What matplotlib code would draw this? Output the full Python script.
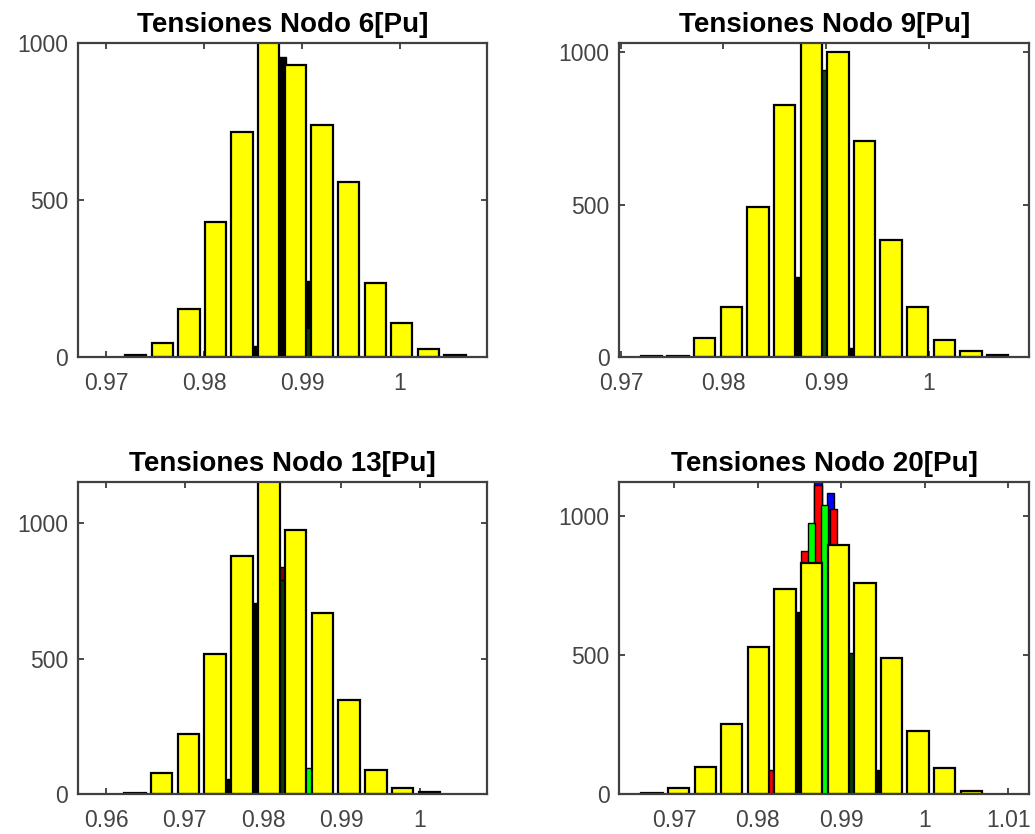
import matplotlib
matplotlib.use("Agg")
import matplotlib.pyplot as plt

plt.rcParams['font.family'] = ['Liberation Sans', 'DejaVu Sans']

# --- Nodo 6 ---
n6_x = [0.97299, 0.97571, 0.97843, 0.98115, 0.98387, 0.98659, 0.98931,
        0.99203, 0.99475, 0.99747, 1.00019, 1.00291, 1.00563]
n6_h = [8, 45, 153, 429, 716, 1010, 931, 740, 556, 236, 108, 25, 6]
n6_step = 0.00272
n6_bg_x = [0.98520, 0.98800, 0.99067, 0.99067]
n6_bg_h = [34, 957, 241, 92]
n6_bg_c = ['black', 'black', 'black', '#0b3d0b']

# --- Nodo 9 ---
n9_x = [0.97297, 0.97557, 0.97817, 0.98076, 0.98336, 0.98596, 0.98856,
        0.99116, 0.99376, 0.99635, 0.99895, 1.00155, 1.00415, 1.00675]
n9_h = [2, 5, 62, 164, 492, 828, 1045, 1000, 708, 383, 164, 57, 19, 8]
n9_step = 0.002598
n9_bg_x = [0.98708, 0.98720, 0.98984, 0.99244]
n9_bg_h = [120, 263, 943, 30]
n9_bg_c = ['black', 'black', '#0b4d0b', 'black']

# --- Nodo 13 ---
n13_x = [0.96367, 0.96708, 0.97050, 0.97391, 0.97733, 0.98074, 0.98415,
         0.98757, 0.99098, 0.99440, 0.99781, 1.00122]
n13_h = [4, 79, 220, 516, 879, 1170, 975, 667, 347, 89, 21, 6]
n13_step = 0.003414
n13_bg_x = [0.97564, 0.97898, 0.98239, 0.98239, 0.98584]
n13_bg_h = [55, 707, 840, 790, 95]
n13_bg_c = ['black', 'black', '#8b0000', '#0b3d0b', '#00ff00']

# --- Nodo 20 ---
n20_x = [0.96737, 0.97055, 0.97374, 0.97692, 0.98010, 0.98329, 0.98647,
         0.98965, 0.99284, 0.99602, 0.99920, 1.00239, 1.00557]
n20_h = [2, 20, 98, 251, 529, 735, 829, 895, 759, 487, 226, 92, 12]
n20_step = 0.003183
n20_bg_x = [0.98468, 0.99105, 0.99425, 0.98722, 0.98876, 0.98141, 0.98567,
            0.98722, 0.98906, 0.98647, 0.98803]
n20_bg_h = [655, 505, 86, 1140, 1083, 86, 874, 1112, 1023, 973, 1038]
n20_bg_c = ['black', '#0b3d0b', 'black', 'blue', 'blue', 'red', 'red',
            'red', 'red', '#00ff00', '#00ff00']

panels = [
    ("Tensiones Nodo 6[Pu]", n6_x, n6_h, n6_step, n6_bg_x, n6_bg_h, n6_bg_c,
     (0.9671, 1.0089), (0, 1000), [0.97, 0.98, 0.99, 1.0], ['0.97', '0.98', '0.99', '1']),
    ("Tensiones Nodo 9[Pu]", n9_x, n9_h, n9_step, n9_bg_x, n9_bg_h, n9_bg_c,
     (0.96985, 1.0098), (0, 1031), [0.97, 0.98, 0.99, 1.0], ['0.97', '0.98', '0.99', '1']),
    ("Tensiones Nodo 13[Pu]", n13_x, n13_h, n13_step, n13_bg_x, n13_bg_h, n13_bg_c,
     (0.95643, 1.00854), (0, 1154), [0.96, 0.97, 0.98, 0.99, 1.0],
     ['0.96', '0.97', '0.98', '0.99', '1']),
    ("Tensiones Nodo 20[Pu]", n20_x, n20_h, n20_step, n20_bg_x, n20_bg_h, n20_bg_c,
     (0.96346, 1.01248), (0, 1122), [0.97, 0.98, 0.99, 1.0, 1.01],
     ['0.97', '0.98', '0.99', '1', '1.01']),
]

# axes boxes in figure fractions [left, bottom, width, height]
boxes = [
    [0.0754, 0.5719, 0.3951, 0.3765],
    [0.5984, 0.5719, 0.3958, 0.3765],
    [0.0754, 0.0480, 0.3951, 0.3744],
    [0.5984, 0.0480, 0.3958, 0.3744],
]

fig = plt.figure(figsize=(10.35, 8.34), dpi=100)

for box, (title, x, h, step, bx, bh, bc, xl, yl, xt, xtl) in zip(boxes, panels):
    ax = fig.add_axes(box)
    # series hidden behind the yellow histogram
    for xi, hi, ci in zip(bx, bh, bc):
        ax.bar(xi, hi, width=0.28 * step, color=ci, edgecolor='black',
               linewidth=1.0, zorder=1)
    ax.bar(x, h, width=0.8 * step, color='#ffff00', edgecolor='black',
           linewidth=1.6, zorder=2)
    ax.set_xlim(*xl)
    ax.set_ylim(*yl)
    ax.set_xticks(xt)
    ax.set_xticklabels(xtl)
    ax.set_yticks([0, 500, 1000])
    ax.set_yticklabels(['0', '500', '1000'])
    ax.tick_params(direction='in', top=True, right=True, length=4, width=1.2,
                   labelsize=16.5, colors='#2b2b2b', labelcolor='#444444')
    ax.tick_params(axis='x', pad=11)
    ax.tick_params(axis='y', pad=7)
    for s in ax.spines.values():
        s.set_color('#404040')
        s.set_linewidth(1.6)
    ax.set_title(title, fontsize=20, fontweight='bold', pad=8)

fig.savefig('out.png', dpi=100)
